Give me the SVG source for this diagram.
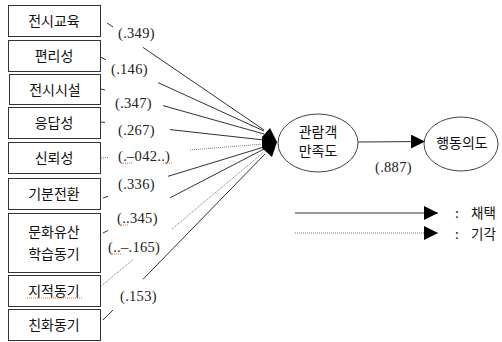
<svg xmlns="http://www.w3.org/2000/svg" width="502" height="342" viewBox="0 0 502 342">
<style>
.box{fill:#fff;stroke:#333;stroke-width:1}
.oval{fill:#fff;stroke:#444;stroke-width:1}
.kt{font-family:"Noto Sans CJK KR","Noto Sans",sans-serif;font-size:14px;fill:#111;text-anchor:middle}
.lt{font-family:"Noto Sans CJK KR","Noto Sans",sans-serif;font-size:13.5px;fill:#111}
.num{font-family:"Liberation Serif","Times New Roman",serif;font-size:14.5px;fill:#222;letter-spacing:0.3px}
.solid{fill:none;stroke:#333;stroke-width:1}
.dot{fill:none;stroke:#777;stroke-width:1;stroke-dasharray:1,1}
.spell{fill:none;stroke:#e07020;stroke-width:1;stroke-dasharray:1,1}
</style>
<defs>
<marker id="arr" viewBox="0 0 14 14" refX="14" refY="7" markerWidth="14" markerHeight="14" markerUnits="userSpaceOnUse" orient="auto">
<path d="M0,0 L14,7 L0,14 Z" fill="#000"/>
</marker>
</defs>
<rect width="502" height="342" fill="#fff"/>

<g id="connectors">
<path class="solid" d="M107,23 L113,27 M143,47.4 L264,130"/>
<path class="solid" d="M100,57 L106,59.7 M158,82.6 L264,131"/>
<path class="solid" d="M101,89 L105,90 M163,105.6 L264,134"/>
<path class="solid" d="M101,122 L105,122.4 M170,129.6 L264,140"/>
<path class="dot" d="M101,158 L108,157.4 M190,150 L264,144"/>
<path class="solid" d="M103,198 L108,196.3 M168,176.3 L264,147"/>
<path class="solid" d="M103,233 L108,230.4 M170,197.8 L264,149"/>
<path class="dot" d="M100,287 L133,259.7 M172,229 L264,152"/>
<path class="solid" d="M103,320 L113,310 M143,279.3 L265,154"/>
<polygon points="270,128 277,142 272,157 262,148 262,137" fill="#000"/>
<line class="solid" x1="358" y1="142" x2="425" y2="141.5" marker-end="url(#arr)"/>
<line class="solid" x1="295" y1="213" x2="438" y2="213" marker-end="url(#arr)"/>
<line class="dot" x1="295" y1="233" x2="438" y2="233" marker-end="url(#arr)"/>
</g>

<g id="labels">
<text class="num" x="118" y="38">(.349)</text>
<text class="num" x="111" y="74">(.146)</text>
<text class="num" x="115" y="108">(.347)</text>
<text class="num" x="118" y="135">(.267)</text>
<text class="num" x="118" y="161">(.–042..)</text>
<text class="num" x="118" y="189">(.336)</text>
<text class="num" x="117" y="223">(..345)</text>
<text class="num" x="108" y="252">(..–.165)</text>
<text class="num" x="120" y="301">(.153)</text>
<text class="num" x="375" y="172">(.887)</text>
<path class="spell" d="M123,163 H133 M163,163 H173 M121,225 H129 M112,254 H121"/>
</g>

<g id="n1"><rect class="box" x="8.5" y="5.5" width="92" height="31"/><text class="kt" x="54" y="26">전시교육</text></g>
<g id="n2"><rect class="box" x="8.5" y="40.5" width="92" height="31"/><text class="kt" x="54" y="61">편리성</text></g>
<g id="n3"><rect class="box" x="9.5" y="74.5" width="91" height="30"/><text class="kt" x="55" y="95">전시시설</text></g>
<g id="n4"><rect class="box" x="8.5" y="107.5" width="92" height="31"/><text class="kt" x="54" y="128">응답성</text></g>
<g id="n5"><rect class="box" x="8.5" y="142.5" width="92" height="31"/><text class="kt" x="54" y="163">신뢰성</text></g>
<g id="n6"><rect class="box" x="8.5" y="178.5" width="92" height="31"/><text class="kt" x="54" y="199">기분전환</text></g>
<g id="n7"><rect class="box" x="8.5" y="213.5" width="92" height="59"/><text class="kt" x="54" y="237">문화유산</text><text class="kt" x="54" y="259">학습동기</text></g>
<g id="n8"><rect class="box" x="8.5" y="275.5" width="92" height="31"/><text class="kt" x="54" y="296">지적동기</text><path class="spell" d="M27,298 H82"/></g>
<g id="n9"><rect class="box" x="8.5" y="309.5" width="92" height="31"/><text class="kt" x="54" y="330">친화동기</text></g>

<g id="sat"><ellipse class="oval" cx="318" cy="143" rx="40" ry="29"/><text class="kt" x="318" y="137">관람객</text><text class="kt" x="318" y="156">만족도</text></g>
<g id="intent"><ellipse class="oval" cx="461" cy="144" rx="37" ry="27"/><text class="kt" x="462" y="148">행동의도</text></g>

<g id="legend">
<text class="lt" x="455" y="218">:</text><text class="lt" x="471" y="218">채택</text>
<text class="lt" x="455" y="239">:</text><text class="lt" x="471" y="239">기각</text>
</g>
</svg>
